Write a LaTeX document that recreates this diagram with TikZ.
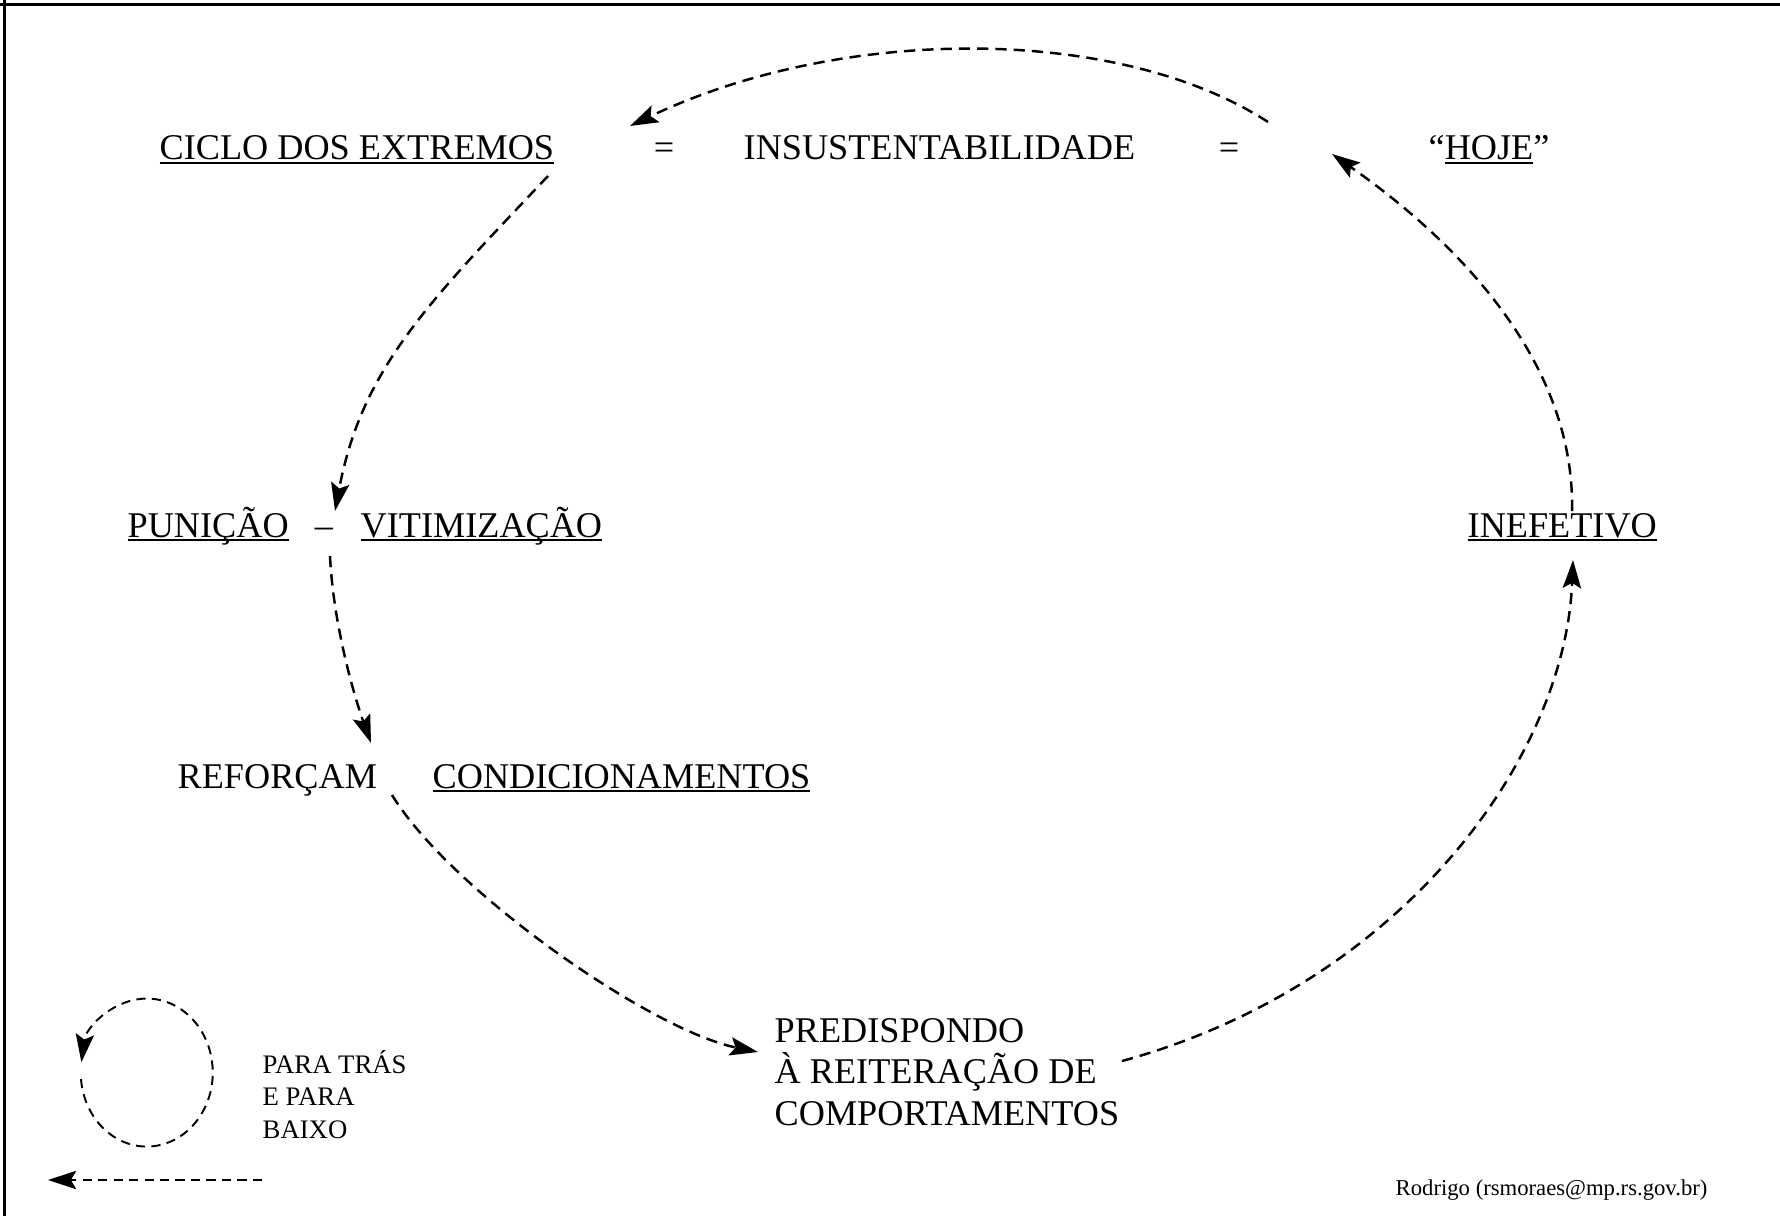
\documentclass[tikz,border=0pt]{standalone}
\usepackage{fontspec}
\setmainfont{Liberation Serif}
\usepackage{tikz}
\usetikzlibrary{arrows.meta}
\newcommand{\sublinha}[1]{\setbox0=\hbox{#1}\rlap{\rule[-1.1pt]{\wd0}{0.5pt}}\box0}
\tikzset{
  rotulo/.style = {inner sep=0pt, anchor=base west,
    font=\fontsize{10.3}{11.7}\selectfont},% rotulo do ciclo
  sinal/.style = {rotulo, anchor=base},% sinais = e -
  bloco/.style = {rotulo, align=left},% texto de tres linhas
  legenda/.style = {inner sep=0pt, anchor=base west, align=left,
    font=\fontsize{7.6}{9.2}\selectfont},
  assinatura/.style = {inner sep=0pt, anchor=base west,
    font=\fontsize{6.45}{7.5}\selectfont},
  fluxo/.style = {->, line width=0.7pt, dash pattern=on 3.2pt off 2pt},% seta do ciclo
  fluxo_leg/.style = {->, line width=0.55pt, dash pattern=on 2.6pt off 1.8pt}% seta da legenda
}

\begin{document}
\begin{tikzpicture}[x=0.01cm, y=-0.01cm, >={Stealth[length=8pt,width=5.2pt,inset=1.5pt]}]
\useasboundingbox (0,0) rectangle (1780,1216);
% moldura
\draw [line width=0.9pt] (0,4.5) -- (1780,4.5);
\draw [line width=0.9pt] (4.5,0) -- (4.5,1216);

% linha de cima
\node [rotulo] (ciclo) at (159,160) {\sublinha{CICLO DOS EXTREMOS}};
\node [sinal] (igual_a) at (664,160) {=};
\node [rotulo] (insust) at (743,160) {INSUSTENTABILIDADE};
\node [sinal] (igual_b) at (1229,160) {=};
\node [rotulo] (hoje) at (1428,160) {“\sublinha{HOJE}”};

% meio
\node [rotulo] (punicao) at (127,537) {\sublinha{PUNIÇÃO}};
\node [sinal] (traco) at (324,537) {–};
\node [rotulo] (vitim) at (360,537) {\sublinha{VITIMIZAÇÃO}};
\node [rotulo] (inefetivo) at (1467,537) {\sublinha{INEFETIVO}};
\node [rotulo] (reforcam) at (177,788) {REFORÇAM};
\node [rotulo] (condic) at (432,788) {\sublinha{CONDICIONAMENTOS}};
\node [bloco] (predisp) at (774,1125)
  {PREDISPONDO\\À REITERAÇÃO DE\\COMPORTAMENTOS};

% legenda
\node [legenda] (leg_txt) at (262,1138) {PARA TRÁS\\E PARA\\BAIXO};
\node [assinatura] (autor) at (1395,1195) {Rodrigo (rsmoraes@mp.rs.gov.br)};

% pontas das setas
\coordinate (a1_ini) at (1268,122);
\coordinate (a1_fim) at (630,126);
\coordinate (a2_ini) at (548,176);
\coordinate (a2_fim) at (335,511);
\coordinate (a3_ini) at (330,556);
\coordinate (a3_fim) at (371,743);
\coordinate (a4_ini) at (392,795);
\coordinate (a4_fim) at (758,1052);
\coordinate (a5_ini) at (1122,1061);
\coordinate (a5_fim) at (1573,560);
\coordinate (a6_ini) at (1572,511);
\coordinate (a6_fim) at (1332,154);
\coordinate (leg_ini) at (81,1079);
\coordinate (seta_ini) at (262,1180);
\coordinate (seta_fim) at (48,1180);

% o ciclo
\draw [fluxo] (a1_ini) .. controls (1118,25) and (842,25) .. (a1_fim);
\draw [fluxo] (a2_ini) .. controls (428,303) and (362,368) .. (a2_fim);
\draw [fluxo] (a3_ini) .. controls (333,620) and (352,690) .. (a3_fim);
\draw [fluxo] (a4_ini) .. controls (450,890) and (650,1030) .. (a4_fim);
\draw [fluxo] (a5_ini) .. controls (1400,985) and (1565,760) .. (a5_fim);
\draw [fluxo] (a6_ini) .. controls (1575,360) and (1455,240) .. (a6_fim);

% legenda: giro e seta
\draw [fluxo_leg] (leg_ini) arc [start angle=175, end angle=-172,
  x radius=66, y radius=74];
\draw [fluxo_leg] (seta_ini) -- (seta_fim);
\end{tikzpicture}
\end{document}
